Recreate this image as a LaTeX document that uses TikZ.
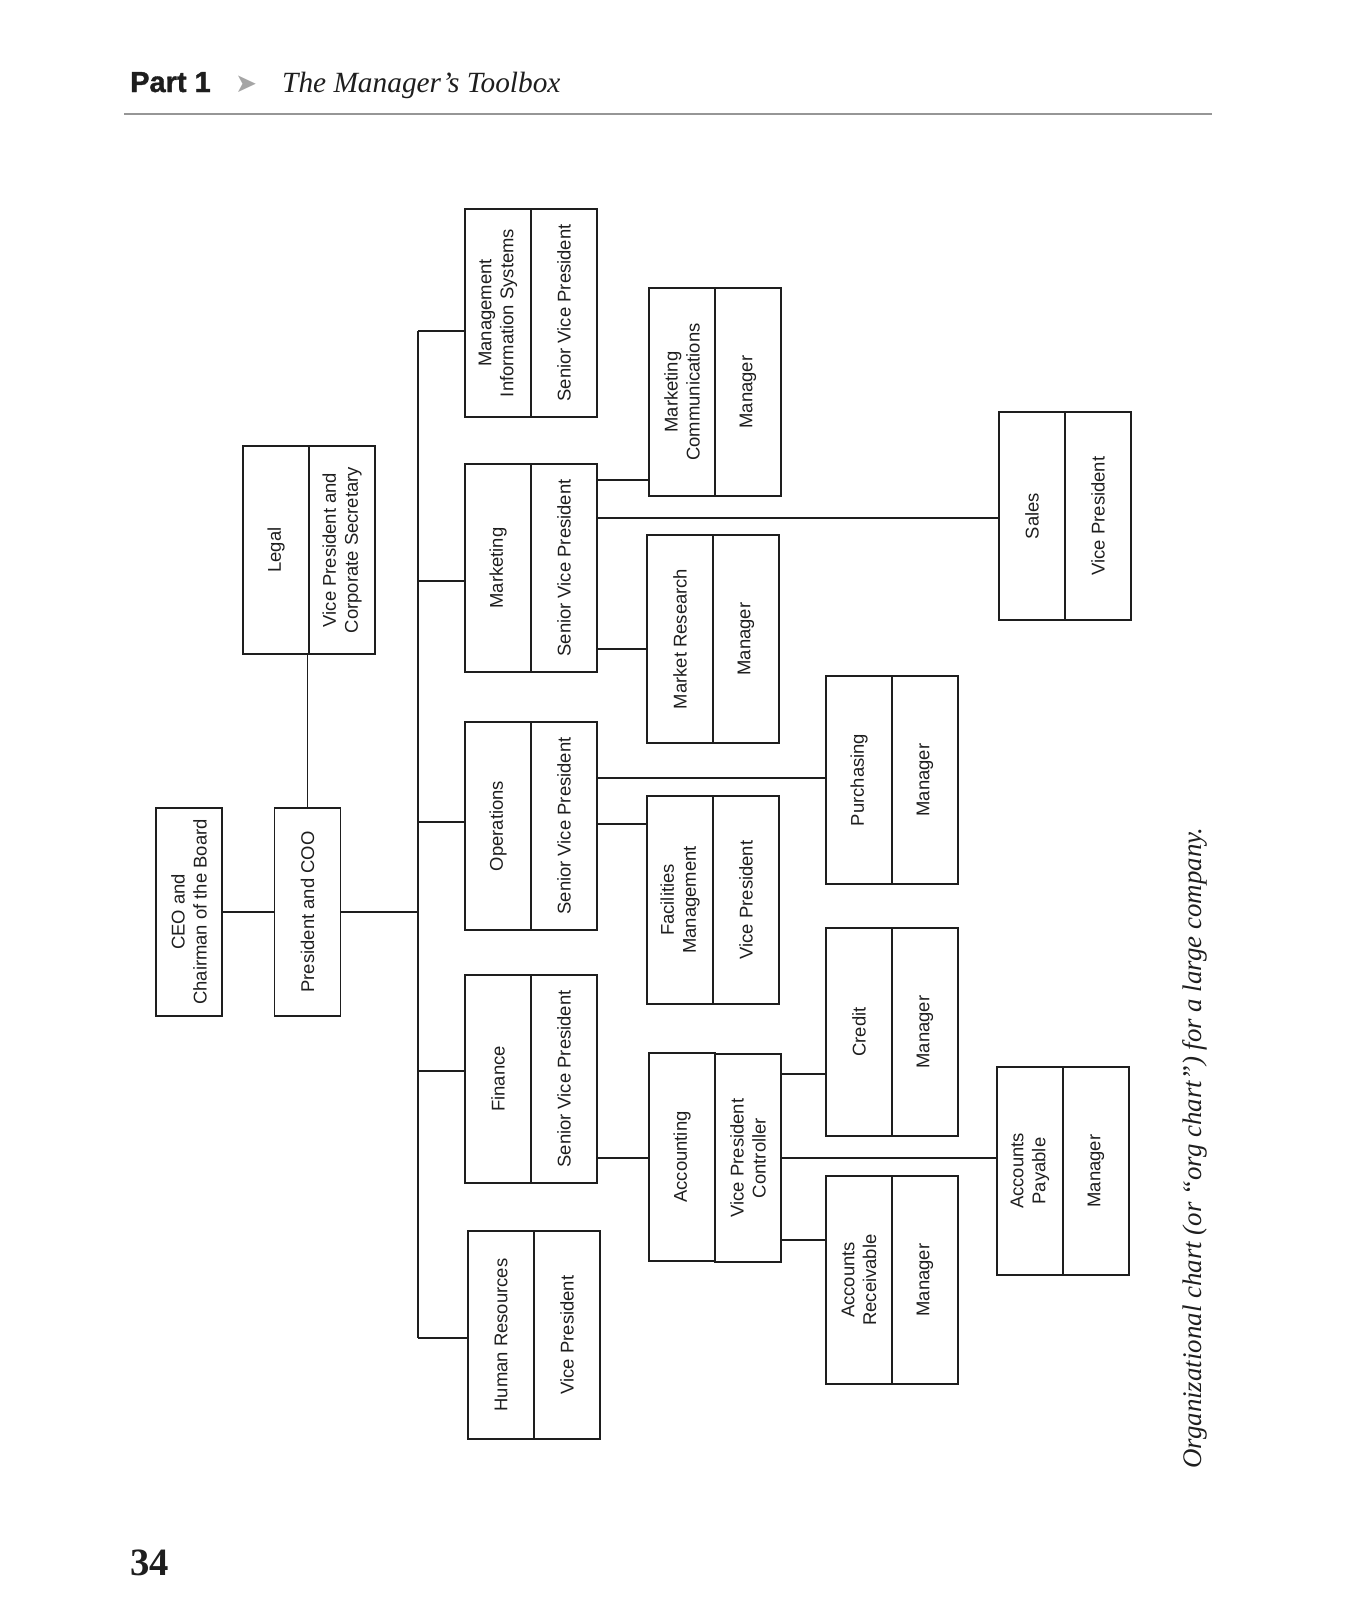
\documentclass[tikz,border=0pt]{standalone}
\usepackage{fontspec}
\setmainfont{Liberation Serif}
\setsansfont{Liberation Sans}
\newfontfamily\symfont{DejaVu Sans}
\newfontfamily\partfont[FakeBold=1.2]{Liberation Sans}
\usepackage{tikz}
\usetikzlibrary{calc,positioning}
\definecolor{orgInk}{RGB}{30,30,30}
\definecolor{orgRule}{RGB}{150,150,150}
\definecolor{orgArrow}{RGB}{165,165,165}

\begin{document}
\begin{tikzpicture}[x=0.02cm, y=-0.02cm,
  cell/.style={draw=orgInk, line width=0.8pt, rotate=90, minimum width=4.16cm, minimum height=1.32cm,
    inner sep=0pt, align=center, text=orgInk, font=\sffamily\fontsize{10.5}{12.5}\selectfont},
  link/.style={draw=orgInk, line width=0.8pt}]
\useasboundingbox (0,0) rectangle (1350,1620);

% header
\node[anchor=base west, font=\partfont\bfseries\fontsize{16.5}{20}\selectfont, text=orgInk] (part) at (124,92) {Part 1};
\node[anchor=base west, text=orgArrow, font=\symfont\fontsize{15}{18}\selectfont] (sep) at (229,92) {➤};
\node[anchor=base west, font=\itshape\fontsize{16.7}{20}\selectfont, text=orgInk] (booktitle) at (276,92) {The Manager’s Toolbox};
\coordinate (ruleL) at (124,114);
\coordinate (ruleR) at (1212,114);
\draw[orgRule, line width=1pt] (ruleL) -- (ruleR);

% boxes
\node[cell] (ceo) at (189,912) {CEO and\\Chairman of the Board};
\node[cell] (pres) at (307.5,912) {President and COO};
\foreach \n/\x/\y/\d/\t in {
  legal/243/550/{Legal}/{Vice President and\\Corporate Secretary},
  mis/465/313/{Management\\Information Systems}/{Senior Vice President},
  mkt/465/568/{Marketing}/{Senior Vice President},
  ops/465/826/{Operations}/{Senior Vice President},
  fin/465/1079/{Finance}/{Senior Vice President},
  hr/468/1335/{Human Resources}/{Vice President},
  mcom/649/392/{Marketing\\Communications}/{Manager},
  mres/647/639/{Market Research}/{Manager},
  sales/999/516/{Sales}/{Vice President},
  purch/826/780/{Purchasing}/{Manager},
  fac/647/900/{Facilities\\Management}/{Vice President},
  credit/826/1032/{Credit}/{Manager},
  arec/826/1280/{Accounts\\Receivable}/{Manager},
  apay/997/1171/{Accounts\\Payable}/{Manager}}
{
  \node[cell] (\n-d) at (\x+33,\y) {\d};
  \node[cell] (\n-t) at (\x+99,\y) {\t};
}
\node[cell] (acct-d) at (682,1157) {Accounting};
\node[cell, line width=1.5pt] (acct-t) at (748,1158) {Vice President\\Controller};

% connectors
\coordinate (trunkTop) at (418,331);
\coordinate (trunkBot) at (418,1338);
\draw[link] (trunkTop) -- (trunkBot);
\draw[link] (ceo) -- (pres);
\draw[link] (pres.east) -- (pres.east |- legal-d.west);
\draw[link] (pres.south) -- (pres.south -| trunkTop);
\foreach \n/\y in {mis/331, mkt/581, ops/822, fin/1071, hr/1338}
  \draw[link] (trunkTop |- 0,\y) -- (\n-d.north |- 0,\y);
\foreach \a/\b/\y in {mkt/mcom/480, mkt/sales/518, mkt/mres/649, ops/purch/778, ops/fac/824,
  fin/acct/1158, acct/credit/1074, acct/apay/1158, acct/arec/1240}
  \draw[link] (\a-t.south |- 0,\y) -- (\b-d.north |- 0,\y);

% caption and page number
\node[rotate=90, font=\itshape\fontsize{15.3}{18}\selectfont, text=orgInk] (caption) at (1195,1148)
  {Organizational chart (or “org chart”) for a large company.};
\node[anchor=base west, font=\bfseries\fontsize{22}{26}\selectfont, text=orgInk] (pagenum) at (124,1575) {34};
\end{tikzpicture}
\end{document}
